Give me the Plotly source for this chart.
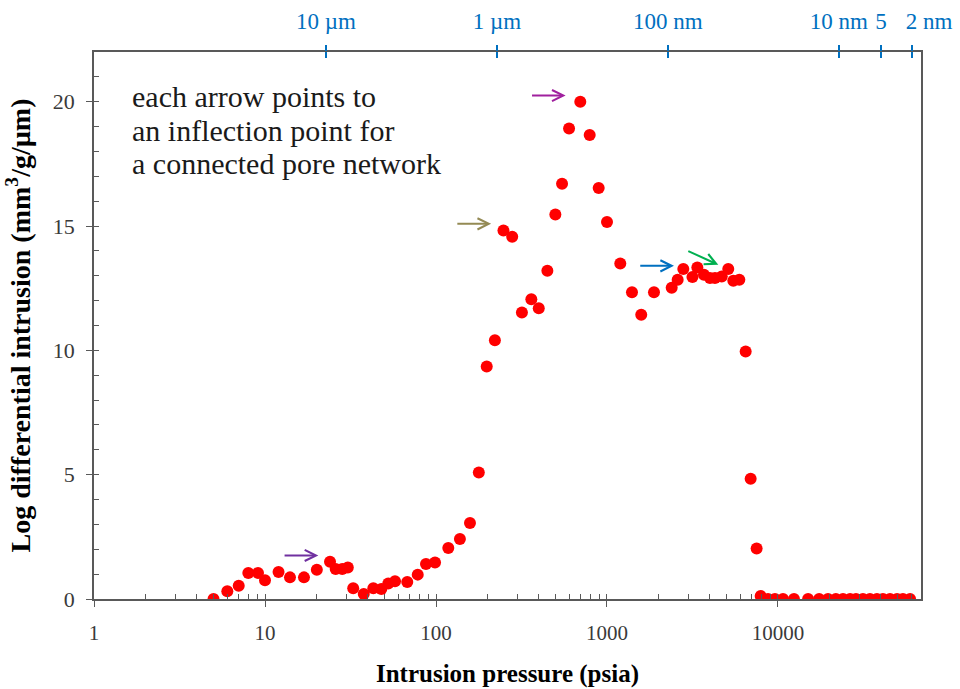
import numpy as np
import plotly.graph_objects as go

# ---------------- data ----------------
pressure_psia = [5, 6.02, 7.02, 7.99, 9.1, 10.0, 12.0, 14.0, 16.9, 20.1, 24.0, 25.9, 28.3, 30.5,
                 32.8, 37.8, 43, 47.9, 52.6, 57.6, 67.9, 78.2, 87.4, 98.7, 118, 138, 158, 178,
                 198, 221, 248, 279, 318, 361, 399, 448, 499, 546, 600, 698, 792, 894, 1000,
                 1196, 1400, 1586, 1883, 2390, 2590, 2794, 3160, 3375, 3690, 4000, 4280, 4690,
                 5120, 5480, 5940, 6470, 6920, 7500, 7920,
                 8740, 9600, 10700, 12400, 15000, 17400, 19600, 21800, 24000, 26400, 28600,
                 31400, 34500, 37900, 41100, 45200, 49700, 53800, 59200]
log_diff_intrusion = [0.0, 0.31, 0.53, 1.05, 1.05, 0.75, 1.09, 0.87, 0.87, 1.18, 1.50, 1.21, 1.21, 1.27,
                      0.43, 0.20, 0.43, 0.40, 0.62, 0.71, 0.68, 0.98, 1.41, 1.47, 2.05, 2.41, 3.06, 5.09,
                      9.35, 10.41, 14.82, 14.57, 11.52, 12.06, 11.69, 13.20, 15.46, 16.70, 18.92, 20.0,
                      18.66, 16.53, 15.16,
                      13.49, 12.34, 11.43, 12.34, 12.52, 12.84, 13.27, 12.95, 13.33, 13.04, 12.91, 12.91,
                      12.97, 13.27, 12.80, 12.84, 9.95, 4.84, 2.03, 0.12,
                      0, 0, 0, 0, 0, 0, 0, 0, 0, 0, 0,
                      0, 0, 0, 0, 0, 0, 0, 0]

bottom_tick_vals = [1, 10, 100, 1000, 10000]
bottom_tick_text = ["1", "10", "100", "1000", "10000"]

# top axis: pore diameter labels placed at the matching pressure
top_tick_psia = [22.7, 227, 2270, 22700, 40000, 60800]
top_tick_text = ["10 µm", "1 µm", "100 nm", "10 nm", "5", "2 nm"]

y_tick_vals = [0, 5, 10, 15, 20]

# arrows: (tail_x, tail_y, tip_x, tip_y, colour)
arrow_tail_x = [12.5, 350, 128, 1503, 2870]
arrow_tail_y = [1.75, 20.25, 15.09, 13.40, 14.05]
arrow_tip_x = [20.5, 573, 210, 2465, 4477]
arrow_tip_y = [1.75, 20.25, 15.09, 13.40, 13.44]
arrow_colors = ["#7030A0", "#A0209E", "#948A54", "#0070C0", "#00B050"]

note_lines = ["each arrow points to", "an inflection point for", "a connected pore network"]

X_MIN, X_MAX = 1, 68600
Y_MIN, Y_MAX = 0, 22

# ---------------- figure ----------------
SERIF = "'Liberation Serif', 'Times New Roman', Times, serif"
LINE = "#595959"
TXT = "#3a3a3a"
BLUE = "#0070C0"
xr = [np.log10(X_MIN), np.log10(X_MAX)]

fig = go.Figure()
fig.add_trace(go.Scatter(
    x=pressure_psia, y=log_diff_intrusion, mode="markers",
    marker=dict(color="#FF0000", size=12, line=dict(width=0)),
    showlegend=False, hoverinfo="skip", xaxis="x", yaxis="y"))

# empty traces so the overlay axes are drawn
for xa, ya in [("x2", "y"), ("x3", "y"), ("x4", "y"), ("x5", "y"), ("x", "y2")]:
    fig.add_trace(go.Scatter(x=[None], y=[None], xaxis=xa, yaxis=ya, showlegend=False))

annotations = []
for tx, ty, hx, hy, c in zip(arrow_tail_x, arrow_tail_y, arrow_tip_x, arrow_tip_y, arrow_colors):
    annotations.append(dict(
        x=np.log10(hx), y=hy, ax=np.log10(tx), ay=ty,
        xref="x", yref="y", axref="x", ayref="y",
        showarrow=True, arrowhead=5, arrowsize=1.1, arrowwidth=2,
        arrowcolor=c, standoff=0, startstandoff=0, text=" "))

note_y = [0.918, 0.857, 0.797]
for line, yy in zip(note_lines, note_y):
    annotations.append(dict(
        x=0.0435, y=yy, xref="paper", yref="paper", xanchor="left", yanchor="middle",
        align="left", showarrow=False, text=line,
        font=dict(family=SERIF, size=30, color="#1a1a1a")))

top_font = dict(family=SERIF, size=23, color=BLUE)
top_common = dict(type="log", range=xr, overlaying="x", anchor="y", side="top",
                  showline=False, showgrid=False, zeroline=False, automargin=False,
                  tickangle=0)

fig.update_layout(
    width=960, height=689, autosize=False,
    margin=dict(l=94, r=39, t=52, b=90, pad=0, autoexpand=False),
    paper_bgcolor="white", plot_bgcolor="white",
    showlegend=False,
    annotations=annotations,
    xaxis=dict(
        type="log", range=xr, tickmode="array", tickvals=bottom_tick_vals,
        ticktext=bottom_tick_text, ticks="outside", ticklen=6, tickwidth=1.3,
        tickcolor=LINE, showline=True, linecolor=LINE, linewidth=1.6, mirror=True,
        showgrid=False, zeroline=False, ticklabelstandoff=8, automargin=False,
        tickangle=0, tickfont=dict(family=SERIF, size=21, color=TXT),
        title=dict(text="<b>Intrusion pressure (psia)</b>", standoff=20,
                   font=dict(family=SERIF, size=25, color="black"))),
    xaxis3=dict(
        type="log", range=xr, overlaying="x", anchor="y", side="bottom",
        tickmode="linear", tick0=0, dtick="D1", ticks="inside", ticklen=5,
        tickwidth=1, tickcolor=LINE, showticklabels=False, showline=False,
        showgrid=False, zeroline=False, automargin=False),
    # top pore-size axis: outside half of the cross ticks + labels (last label drawn by xaxis5)
    xaxis2=dict(
        **top_common, tickmode="array", tickvals=top_tick_psia,
        ticktext=top_tick_text[:-1] + [""],
        ticks="outside", ticklen=6, tickwidth=1.6, tickcolor=BLUE,
        ticklabelstandoff=7, tickfont=top_font),
    # inside half of the cross ticks
    xaxis4=dict(
        **top_common, tickmode="array", tickvals=top_tick_psia, ticks="inside",
        ticklen=6, tickwidth=1.6, tickcolor=BLUE, showticklabels=False),
    # right-most label, shifted so that the "2" sits over its tick
    xaxis5=dict(
        **top_common, tickmode="array", tickvals=top_tick_psia[-1:],
        ticktext=top_tick_text[-1:], ticks="outside", ticklen=6, tickwidth=0,
        tickcolor="rgba(0,0,0,0)", ticklabelstandoff=7, ticklabelshift=17,
        tickfont=top_font),
    yaxis=dict(
        range=[Y_MIN, Y_MAX], tickmode="array", tickvals=y_tick_vals,
        ticks="outside", ticklen=6, tickwidth=1.3, tickcolor=LINE,
        showline=True, linecolor=LINE, linewidth=1.6, mirror=True,
        showgrid=False, zeroline=False, ticklabelstandoff=7, automargin=False,
        tickfont=dict(family=SERIF, size=22, color=TXT),
        title=dict(text="<b>Log differential intrusion (mm<sup>3</sup>/g/µm)</b>",
                   standoff=14, font=dict(family=SERIF, size=28, color="black"))),
    yaxis2=dict(
        range=[Y_MIN, Y_MAX], overlaying="y", anchor="x", side="left",
        tickmode="linear", tick0=0, dtick=1, ticks="inside", ticklen=5,
        tickwidth=1, tickcolor=LINE, showticklabels=False, showline=False,
        showgrid=False, zeroline=False, automargin=False),
)

fig.write_html("out.html", config={"displayModeBar": False},
               post_script="document.body.style.margin='0';")
